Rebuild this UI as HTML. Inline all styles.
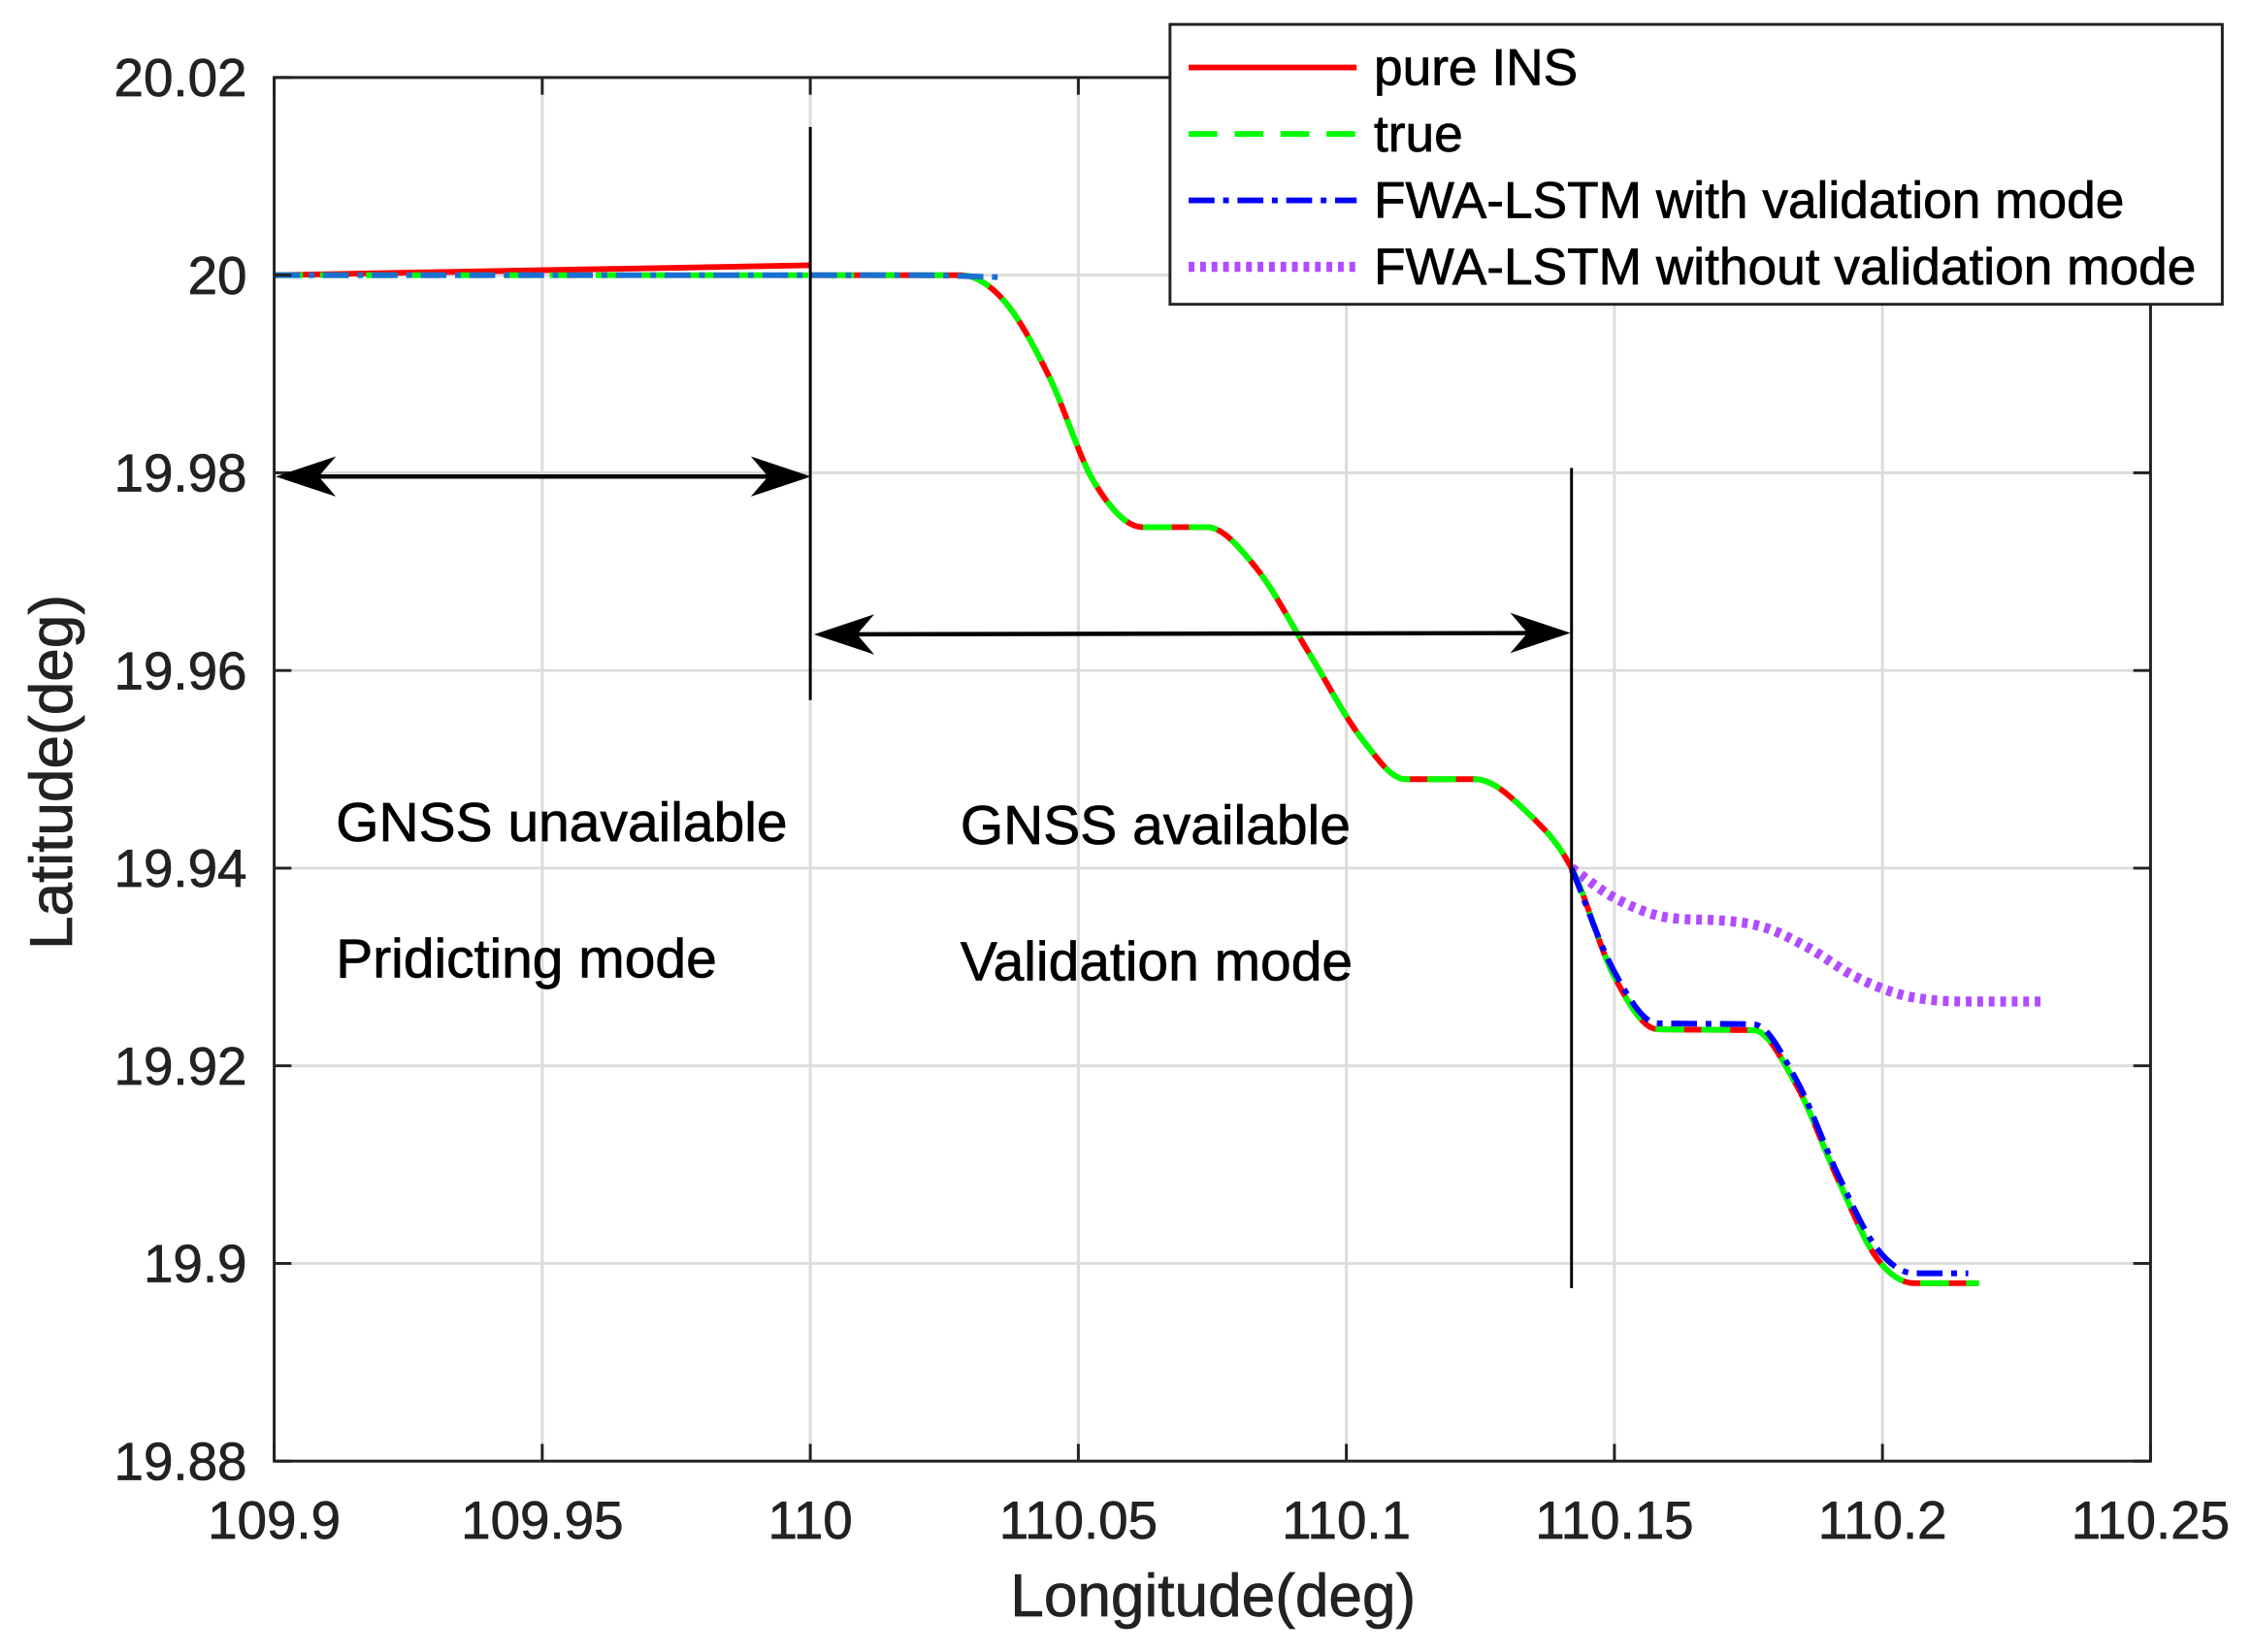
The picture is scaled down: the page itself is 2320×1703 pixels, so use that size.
<!DOCTYPE html>
<html><head><meta charset="utf-8"><style>
html,body{margin:0;padding:0;background:#fff;}
svg{display:block;font-family:"Liberation Sans",Arial,sans-serif;}
text{stroke:currentColor;stroke-width:0.5;}
</style></head><body>
<svg id="chart" width="2320" height="1703" viewBox="0 0 1568 1151" preserveAspectRatio="none" xmlns="http://www.w3.org/2000/svg">
<rect x="0" y="0" width="1568" height="1151" fill="#fff"/>
<g id="grid"></g>
<g id="series"></g>
<g id="axes"></g>
<g id="annot"></g>
<g id="legend"></g>
</svg>
<script>
const xTicks=[109.9,109.95,110,110.05,110.1,110.15,110.2,110.25];
const xTickLabels=["109.9","109.95","110","110.05","110.1","110.15","110.2","110.25"];
const yTicks=[19.88,19.9,19.92,19.94,19.96,19.98,20,20.02];
const yTickLabels=["19.88","19.9","19.92","19.94","19.96","19.98","20","20.02"];
const trueLon=[109.9,110.0,110.028,110.036,110.0445,110.053,110.062,110.074,110.083,110.093,110.103,110.111,110.124,110.134,110.142,110.150,110.158,110.176,110.184,110.1917,110.199,110.206,110.218];
const trueLat=[20.0,20.0,20.0,19.9975,19.9898,19.979,19.9745,19.9745,19.9705,19.9618,19.953,19.949,19.949,19.9455,19.94,19.929,19.9237,19.9236,19.918,19.9085,19.9005,19.898,19.898];
const insPreLon=[109.9,110.0];
const insPreLat=[20.0,20.001];
const bluePreLon=[109.9,110.0,110.02,110.035];
const bluePreLat=[20.0,20.0,20.0,19.9998];
const bluePostLon=[110.142,110.150,110.158,110.176,110.184,110.1917,110.199,110.206,110.216];
const bluePostLat=[19.94,19.9295,19.9243,19.9242,19.9185,19.909,19.9015,19.899,19.899];
const purpleLon=[110.142,110.150,110.160,110.170,110.178,110.186,110.195,110.205,110.218,110.23];
const purpleLat=[19.94,19.937,19.935,19.9347,19.934,19.932,19.929,19.927,19.9265,19.9265];

const L=191,R=1498,T=54,B=1018;
const sx=v=>L+(v-109.9)/(110.25-109.9)*(R-L);
const sy=v=>B-(v-19.88)/(20.02-19.88)*(B-T);
const NS="http://www.w3.org/2000/svg";
function mk(tag,attrs,parent){const e=document.createElementNS(NS,tag);for(const k in attrs)e.setAttribute(k,attrs[k]);parent.appendChild(e);return e;}
const grid=document.getElementById('grid'),axes=document.getElementById('axes'),ser=document.getElementById('series'),ann=document.getElementById('annot'),leg=document.getElementById('legend');

xTicks.forEach((v,i)=>{const x=sx(v);
 const g=mk('line',{x1:x,x2:x,y1:T,y2:B,stroke:'#dcdcdc','stroke-width':2},grid);
 
 
 mk('line',{x1:x,x2:x,y1:B,y2:B-12,stroke:'#222','stroke-width':2},axes);
 mk('line',{x1:x,x2:x,y1:T,y2:T+12,stroke:'#222','stroke-width':2},axes);
 const t=mk('text',{x:x,y:1072,'font-size':37,'text-anchor':'middle',fill:'#222',color:'#222'},axes);
 t.textContent=xTickLabels[i];
 
 
});
yTicks.forEach((v,i)=>{const y=sy(v);
 const g=mk('line',{x1:L,x2:R,y1:y,y2:y,stroke:'#dcdcdc','stroke-width':2},grid);
 
 
 mk('line',{x1:L,x2:L+12,y1:y,y2:y,stroke:'#222','stroke-width':2},axes);
 mk('line',{x1:R,x2:R-12,y1:y,y2:y,stroke:'#222','stroke-width':2},axes);
 const t=mk('text',{x:172,y:y+13,'font-size':37,'text-anchor':'end',fill:'#222',color:'#222'},axes);
 t.textContent=yTickLabels[i];
 
 
});
const frame=mk('rect',{x:L,y:T,width:R-L,height:B-T,fill:'none',stroke:'#222','stroke-width':2},axes);


const xt=mk('text',{x:845,y:1126,'font-size':42,'text-anchor':'middle',fill:'#222',color:'#222'},axes);
xt.textContent='Longitude(deg)';


const yt=mk('text',{x:0,y:0,'font-size':42,'text-anchor':'middle',fill:'#222',color:'#222',transform:'translate(50,538) rotate(-90)'},axes);
yt.textContent='Latitude(deg)';



function smoothPath(lons,lats){
 const xs=lons.map(sx),ys=lats.map(sy),n=xs.length;
 if(n<3){return 'M'+xs[0]+','+ys[0]+' L'+xs[1]+','+ys[1];}
 const d=[],m=[];
 for(let i=0;i<n-1;i++)d.push((ys[i+1]-ys[i])/(xs[i+1]-xs[i]));
 m[0]=d[0];m[n-1]=d[n-2];
 for(let i=1;i<n-1;i++){m[i]=(d[i-1]*d[i]<=0)?0:(d[i-1]+d[i])/2;}
 for(let i=0;i<n-1;i++){if(d[i]===0){m[i]=0;m[i+1]=0;continue;}
  const a=m[i]/d[i],b=m[i+1]/d[i],s=a*a+b*b;if(s>9){const t=3/Math.sqrt(s);m[i]=t*a*d[i];m[i+1]=t*b*d[i];}}
 let p='M'+xs[0]+','+ys[0];
 for(let i=0;i<n-1;i++){const h=(xs[i+1]-xs[i])/3;
  p+=' C'+(xs[i]+h)+','+(ys[i]+m[i]*h)+' '+(xs[i+1]-h)+','+(ys[i+1]-m[i+1]*h)+' '+xs[i+1]+','+ys[i+1];}
 return p;
}
function line(lons,lats,st,name){const e=mk('path',Object.assign({d:smoothPath(lons,lats),fill:'none'},st),ser);
 
 }
const red={stroke:'#ff0000','stroke-width':4};
const green={stroke:'#00ff00','stroke-width':4,'stroke-dasharray':'20 12'};
const blue={stroke:'#0000ff','stroke-width':4,'stroke-dasharray':'18 6 4 6'};
const purple={stroke:'#b14cff','stroke-width':7,'stroke-dasharray':'4 4'};
line(insPreLon,insPreLat,red,'pure-ins-pre-line');
line(trueLon.slice(1),trueLat.slice(1),red,'pure-ins-line');
line(purpleLon,purpleLat,purple,'fwa-lstm-without-validation-line');
line(trueLon,trueLat,green,'true-line');
line(bluePreLon,bluePreLat,Object.assign({},blue,{stroke:'#1a6fd0'}),'fwa-lstm-validation-pre-line');
line(bluePostLon,bluePostLat,blue,'fwa-lstm-validation-line');

mk('line',{x1:sx(110),x2:sx(110),y1:sy(20.015),y2:sy(19.957),stroke:'#000','stroke-width':2},ann);
mk('line',{x1:sx(110.142),x2:sx(110.142),y1:sy(19.9805),y2:sy(19.8975),stroke:'#000','stroke-width':2},ann);
function arrow(x1,y1,x2,y2,name){const g=mk('g',{},ann);
 
 
 mk('line',{x1:x1+6,y1:y1,x2:x2-6,y2:y2,stroke:'#000','stroke-width':3},g);
 mk('path',{d:`M${x1},${y1} L${x1+42},${y1-14} L${x1+30},${y1} L${x1+42},${y1+14} Z`,fill:'#000'},g);
 mk('path',{d:`M${x2},${y2} L${x2-42},${y2-14} L${x2-30},${y2} L${x2-42},${y2+14} Z`,fill:'#000'},g);}
arrow(192,332,565,332,'prediction-range-arrow');
arrow(567,442,1094,441,'validation-range-arrow');
[['GNSS unavailable',234,586,'gnss-unavailable-label'],['Pridicting mode',234,681,'predicting-mode-label'],['GNSS available',669,588,'gnss-available-label'],['Validation mode',669,683,'validation-mode-label']].forEach(a=>{
 const t=mk('text',{x:a[1],y:a[2],'font-size':38.5,fill:'#000',color:'#000'},ann);t.textContent=a[0];
 
 });

const lb=mk('rect',{x:815,y:17,width:733,height:195,fill:'#fff',stroke:'#222','stroke-width':2},leg);


[['pure INS',red],['true',green],['FWA-LSTM with validation mode',blue],['FWA-LSTM without validation mode',purple]].forEach((e,i)=>{
 const y=47+i*46.3;const g=mk('g',{},leg);
 
 
 mk('line',Object.assign({x1:828,x2:945,y1:y,y2:y},e[1]),g);
 const t=mk('text',{x:957,y:y+12,'font-size':36,fill:'#000',color:'#000'},g);t.textContent=e[0];});
</script>
</body></html>
